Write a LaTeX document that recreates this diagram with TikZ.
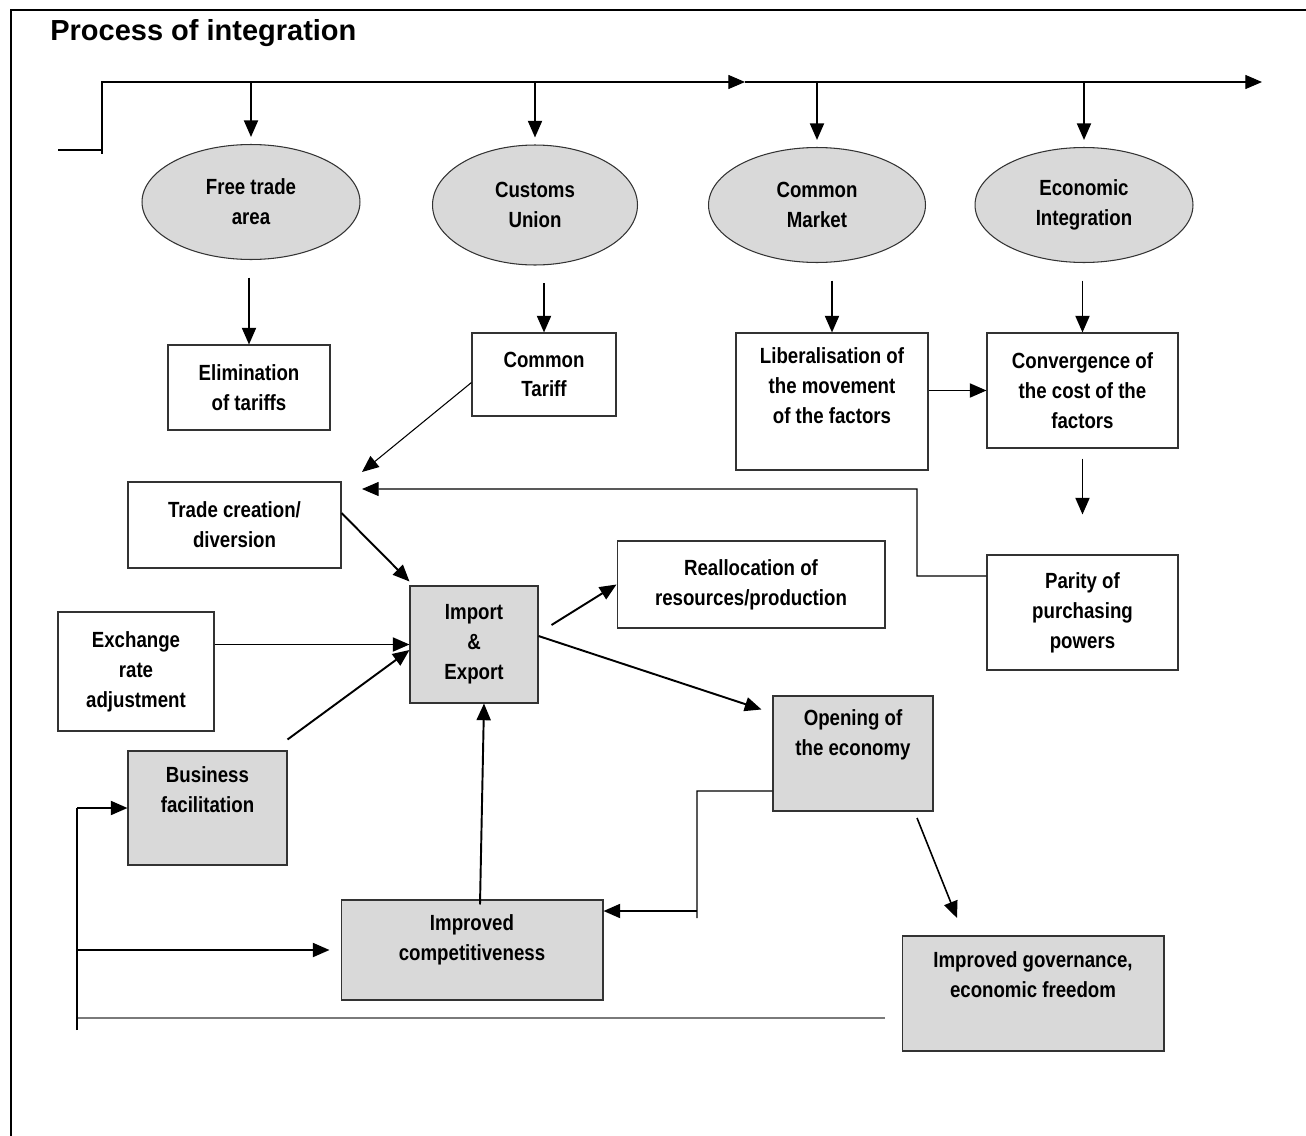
\documentclass[tikz,border=0pt]{standalone}
\usepackage{fontspec}
\setmainfont{Liberation Sans}
\newfontfamily\boxfont[FakeStretch=0.85]{Liberation Sans}
\usepackage{tikz}
\usetikzlibrary{arrows.meta,shapes.geometric}
\definecolor{boxgrey}{HTML}{D9D9D9}
\definecolor{rulegrey}{HTML}{7A7A7A}

\begin{document}
\begin{tikzpicture}[x=0.02cm,y=-0.02cm,
		txt/.style={font=\boxfont\bfseries\fontsize{12.5}{17}\selectfont,align=center,inner sep=0pt},
		headline/.style={font=\bfseries\fontsize{16.5}{20}\selectfont,inner sep=0pt},
		stage/.style={ellipse,draw=black!80,line width=0.6pt,fill=boxgrey,txt},
		box/.style={rectangle,draw=black!80,line width=0.6pt,fill=white,txt},
		greybox/.style={box,fill=boxgrey},
		tip/.style={-{Triangle[length=9.5pt,width=8pt]}},
		arr/.style={tip,line width=1.1pt},
		link/.style={line width=0.6pt}]
			\useasboundingbox (0,0) rectangle (1306,1136);
			\draw[line width=1.4pt] (11,1136) -- (11,10) -- (1306,10);
			\node[headline,anchor=base west] (title) at (50,40) {Process of integration};
	
			\node[stage,minimum width=4.36cm,minimum height=2.3cm] (fta) at (251,202) {Free trade\\area};
			\node[stage,minimum width=4.1cm,minimum height=2.4cm] (cu) at (535,205) {Customs\\Union};
			\node[stage,minimum width=4.34cm,minimum height=2.3cm] (cm) at (817,205) {Common\\Market};
			\node[stage,minimum width=4.36cm,minimum height=2.3cm] (ei) at (1084,205) {Economic\\Integration};
	
			\node[box,minimum width=3.24cm,minimum height=1.7cm] (elim) at (249,387.5) {Elimination\\of tariffs};
			\node[box,minimum width=2.88cm,minimum height=1.66cm] (ctar) at (544,374.5) {Common\\Tariff};
			\node[box,minimum width=3.84cm,minimum height=2.74cm] (lib) at (832,401.5) {};
			\node[txt] (lib-t) at (832,386) {Liberalisation of\\the movement\\of the factors};
			\node[box,minimum width=3.82cm,minimum height=2.3cm] (conv) at (1082.5,390.5) {Convergence of\\the cost of the\\factors};
			\node[box,minimum width=3.82cm,minimum height=2.3cm] (parity) at (1082.5,612.5) {Parity of\\purchasing\\powers};
			\node[box,minimum width=4.26cm,minimum height=1.72cm] (trade) at (234.5,525) {Trade creation/\\diversion};
			\node[greybox,minimum width=2.56cm,minimum height=2.34cm] (imp) at (474,644.5) {Import\\\&\\Export};
			\node[box,minimum width=3.12cm,minimum height=2.38cm] (exch) at (136,671.5) {Exchange\\rate\\adjustment};
			\node[box,minimum width=5.36cm,minimum height=1.74cm] (realloc) at (751,584.5) {Reallocation of\\resources/production};
			\node[greybox,minimum width=3.18cm,minimum height=2.28cm] (bus) at (207.5,808) {};
			\node[txt] (bus-t) at (207.5,790) {Business\\facilitation};
			\node[greybox,minimum width=3.2cm,minimum height=2.3cm] (open) at (853,753.5) {};
			\node[txt] (open-t) at (853,735) {Opening of\\the economy};
			\node[greybox,minimum width=5.24cm,minimum height=2cm] (impc) at (472,950) {};
			\node[txt] (impc-t) at (472,940) {Improved\\competitiveness};
			\node[greybox,minimum width=5.24cm,minimum height=2.3cm] (gov) at (1033,993.5) {};
			\node[txt] (gov-t) at (1033,975) {Improved governance,\\economic freedom};
	
			\coordinate (entry) at (58,150);
			\coordinate (half) at (745,82);
			\coordinate (gap) at (975,82);
			\coordinate (far) at (1262,82);
			\draw[link,tip] (entry) -| (102,82) -- (half);
			\draw[link] (half) -- (gap);
			\draw[link,tip] (gap) -- (far);
			\draw[link] (102,150) -- (102,154);
			\foreach \src in {fta,cu,cm,ei}
				\draw[arr,shorten >=0.14cm] (\src.north |- half) -- (\src.north);
			\foreach \src/\dst in {fta/elim,cu/ctar,cm/lib,ei/conv}
				\draw[arr,shorten <=0.35cm] (\dst.north |- \src.south) -- (\dst.north);
	
			\draw[arr] (conv.west -| lib.east) -- (conv.west);
			\draw[arr,shorten <=0.2cm,shorten >=0.8cm] (conv.south) -- (parity.north);
			\coordinate (trade-in) at (362,489);
			\coordinate (trade-ne) at (362,472);
			\draw[link,tip] ([yshift=0.73cm]parity.west) -- (917,576) |- (trade-in);
			\draw[link,tip] ([yshift=-0.16cm]ctar.west) -- (trade-ne);
			\draw[arr] ([yshift=0.24cm]trade.east) -- ([yshift=0.08cm]imp.north west);
			\draw[arr] (exch.east |- imp.west) -- (imp.west);
			\draw[arr] ([yshift=0.22cm]bus.north east) -- ([yshift=-0.11cm]imp.west);
			\draw[arr] ([shift={(0.26cm,0.39cm)}]imp.east) -- (realloc.west);
			\draw[arr] ([yshift=0.17cm]imp.east) -- ([shift={(-0.22cm,-0.28cm)}]open.north west);
	
			\coordinate (open-w) at (697,791);
			\coordinate (fork) at (697,911);
			\draw[link] ([yshift=-0.75cm]open.west) -- (open-w) -- (697,918);
			\draw[arr] (fork) -- (impc.east |- fork);
			\draw[arr] ([shift={(0.16cm,-0.1cm)}]impc.north) -- ([xshift=0.2cm]imp.south);
			\coordinate (open-out) at (917,818);
			\coordinate (gov-in) at (957,918);
			\draw[link,tip,line width=0.9pt] (open-out) -- (gov-in);
	
			\coordinate (loop-end) at (885,1018);
			\coordinate (loop-low) at (77,1030);
			\coordinate (loop-top) at (77,808);
			\draw[line width=1.1pt,rulegrey] (loop-end) -- (77,1018);
			\draw[link] (loop-low) -- (loop-top);
			\draw[arr] (loop-top) -- (bus.west);
			\draw[arr,shorten >=0.22cm] (impc.west -| loop-top) -- (impc.west);
\end{tikzpicture}
\end{document}
